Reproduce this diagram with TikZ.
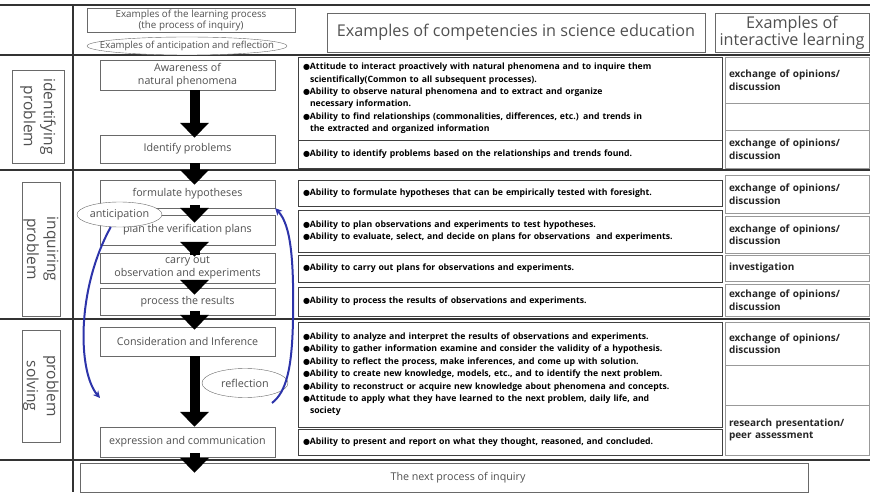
\documentclass[tikz,border=0pt]{standalone}
\usepackage{fontspec}
\setmainfont{Open Sans}
\newfontfamily\symfont{DejaVu Sans}
\usetikzlibrary{arrows.meta,shapes.geometric}

\definecolor{loopblue}{RGB}{45,52,170}
\definecolor{boxgray}{RGB}{105,105,105}
\definecolor{labelgray}{RGB}{80,80,80}

\newcommand\bl{{\symfont\fontsize{8}{8}\selectfont ●}}
\newcommand\exch{exchange of opinions/\\discussion}
\newcommand\peer{research presentation/\\peer assessment}

\tikzset{%
	rule line/.style={
		draw=black!80,
		line width=1.6pt
	},
	flow box/.style={
		draw=boxgray,
		fill=white,
		minimum width=175pt,
		inner sep=0pt,
		align=center,
		text=labelgray,
		font=\fontsize{10.7}{12.5}\selectfont
	},
	head box/.style={
		draw=boxgray,
		minimum height=39pt,
		inner sep=0pt,
		align=center,
		text=labelgray,
		font=\fontsize{16.2}{17}\selectfont
	},
	stage label/.style={
		draw=boxgray,
		rotate=-90,
		inner sep=0pt,
		align=center,
		text=labelgray,
		font=\fontsize{15.5}{20}\selectfont
	},
	skill box/.style={
		draw=black!75,
		fill=white,
		text width=414pt,
		inner sep=5pt,
		align=left,
		font=\bfseries\fontsize{8.7}{12.4}\selectfont
	},
	talk box/.style={
		draw=black!40,
		text width=136pt,
		inner sep=4pt,
		align=left,
		text=black!85,
		font=\bfseries\fontsize{10}{12.5}\selectfont
	},
	note ellipse/.style={
		ellipse,
		draw=boxgray,
		fill=white,
		inner sep=0pt,
		text=labelgray,
		font=\fontsize{10.8}{12}\selectfont
	},
	flow arrow/.style={
		draw=black,
		line width=10pt,
		-{Triangle[length=15pt,width=28pt]}
	},
	loop arrow/.style={
		draw=loopblue,
		line width=2pt,
		-{Stealth[length=7pt,width=7pt]}
	}
}

\begin{document}
\begin{tikzpicture}[x=1pt, y=-1pt]
			\useasboundingbox (0,0) rectangle (870,494);
			
			% draw frame lines
			\foreach \y in {5,55,170,319,460}
			\draw [rule line] (0,\y) -- (870,\y);
			\draw [rule line] (73,5) -- (73,492);
			
			% draw header
			\node [flow box, minimum width=208pt, minimum height=24pt, font=\fontsize{9.8}{11}\selectfont] (head-process) at (191,20) {Examples of the learning process\\(the process of inquiry)};
			\node [note ellipse, minimum width=200pt, minimum height=18pt, inner xsep=-26pt, font=\fontsize{9.6}{11}\selectfont] (head-loop) at (187,46) {Examples of anticipation and reflection};
			\node [head box, minimum width=378pt] (head-skill) at (516,32.5) {Examples of competencies in science education};
			\node [head box, minimum width=154pt] (head-talk) at (792,32.5) {Examples of\\interactive learning};
			
			% draw stage labels
			\foreach \n/\x/\t/\b/\w/\l in {ident/38/70/163/52/{identifying\\problem}, inqu/41/182/316/38/{inquiring\\problem}, solve/41/330/442/38/{problem\\solving}}
			\node [stage label, minimum width=\b-\t, minimum height=\w] (stage-\n) at (\x,{(\t+\b)/2}) {\l};
			
			% draw nodes of the inquiry process
			\foreach \n/\y/\h/\l in {aware/75/30/{Awareness of\\natural phenomena}, ident/149/28/Identify problems, formul/194/28/formulate hypotheses, plan/230/30/plan the verification plans, carry/268/30/{carry out\\observation and experiments}, proc/301.5/27/process the results, consid/341.5/29/Consideration and Inference, express/442/30/expression and communication}
			\node [flow box, minimum height=\h] (\n) at (187.5,\y) {\l};
			
			\node [flow box, minimum width=728pt, minimum height=29pt] (next) at (444,477.5) {\hspace*{28pt}The next process of inquiry};
			
			% draw competency boxes
			\node [skill box, minimum height=83pt] (skill-1) at (510,98.5) {\bl Attitude to interact proactively with natural phenomena and to inquire them\\\hspace*{7pt}scientifically(Common to all subsequent processes).\\\bl Ability to observe natural phenomena and to extract and organize\\\hspace*{7pt}necessary information.\\\bl Ability to find relationships (commonalities, differences, etc.) and trends in\\\hspace*{7pt}the extracted and organized information};
			\node [skill box, minimum height=28pt] (skill-2) at (510,154) {\bl Ability to identify problems based on the relationships and trends found.};
			\node [skill box, minimum height=26pt] (skill-3) at (510,193) {\bl Ability to formulate hypotheses that can be empirically tested with foresight.};
			\node [skill box, minimum height=42pt] (skill-4) at (510,231) {\bl Ability to plan observations and experiments to test hypotheses.\\\bl Ability to evaluate, select, and decide on plans for observations\ \ and experiments.};
			\node [skill box, minimum height=27pt] (skill-5) at (510,268.5) {\bl Ability to carry out plans for observations and experiments.};
			\node [skill box, minimum height=29pt] (skill-6) at (510,301.5) {\bl Ability to process the results of observations and experiments.};
			\node [skill box, minimum height=105pt] (skill-7) at (510,374.5) {\bl Ability to analyze and interpret the results of observations and experiments.\\\bl Ability to gather information examine and consider the validity of a hypothesis.\\\bl Ability to reflect the process, make inferences, and come up with solution.\\\bl Ability to create new knowledge, models, etc., and to identify the next problem.\\\bl Ability to reconstruct or acquire new knowledge about phenomena and concepts.\\\bl Attitude to apply what they have learned to the next problem, daily life, and\\\hspace*{7pt}society};
			\node [skill box, minimum height=26pt] (skill-8) at (510,442) {\bl Ability to present and report on what they thought, reasoned, and concluded.};
			
			% draw interactive learning boxes
			\foreach \y/\h/\l [count=\i] in {80/46/\exch, 116.5/27/{}, 149/38/\exch, 194/38/\exch, 234.5/37/\exch, 268/26/investigation, 300/32/\exch, 343.5/43/\exch, 385/40/{}, 430/50/\peer}
			\node [talk box, minimum height=\h] (talk-\i) at (797,\y) {\l};
			
			% draw arrows of the inquiry process
			\foreach \a/\b/\s/\e in {aware/ident/0/3, ident/formul/0/5, formul/plan/3/8, plan/carry/10/4, carry/proc/6/7, proc/consid/4/3, consid/express/0/0, express/next/4/10}
			\draw [flow arrow, shorten <=-\s pt, shorten >=-\e pt] ([xshift=7pt]\a.south) -- ([xshift=7pt]\a.south |- \b.north);
			
			% anticipation and reflection
			\node [note ellipse, minimum width=85pt, minimum height=25pt] (antic) at (119.5,214.5) {anticipation};
			\node [note ellipse, minimum width=86pt, minimum height=29pt] (refl) at (245,383) {reflection};
			
			\coordinate (antic-end) at (100,398);
			\coordinate (refl-start) at (272,403);
			\draw [loop arrow] (antic.235) .. controls (76,290) and (78,372) .. (antic-end);
			\draw [loop arrow] (refl-start) .. controls (286,392) and (292,370) .. (293,320) .. controls (294,260) and (291,225) .. (formul.south east);
\end{tikzpicture}
\end{document}
